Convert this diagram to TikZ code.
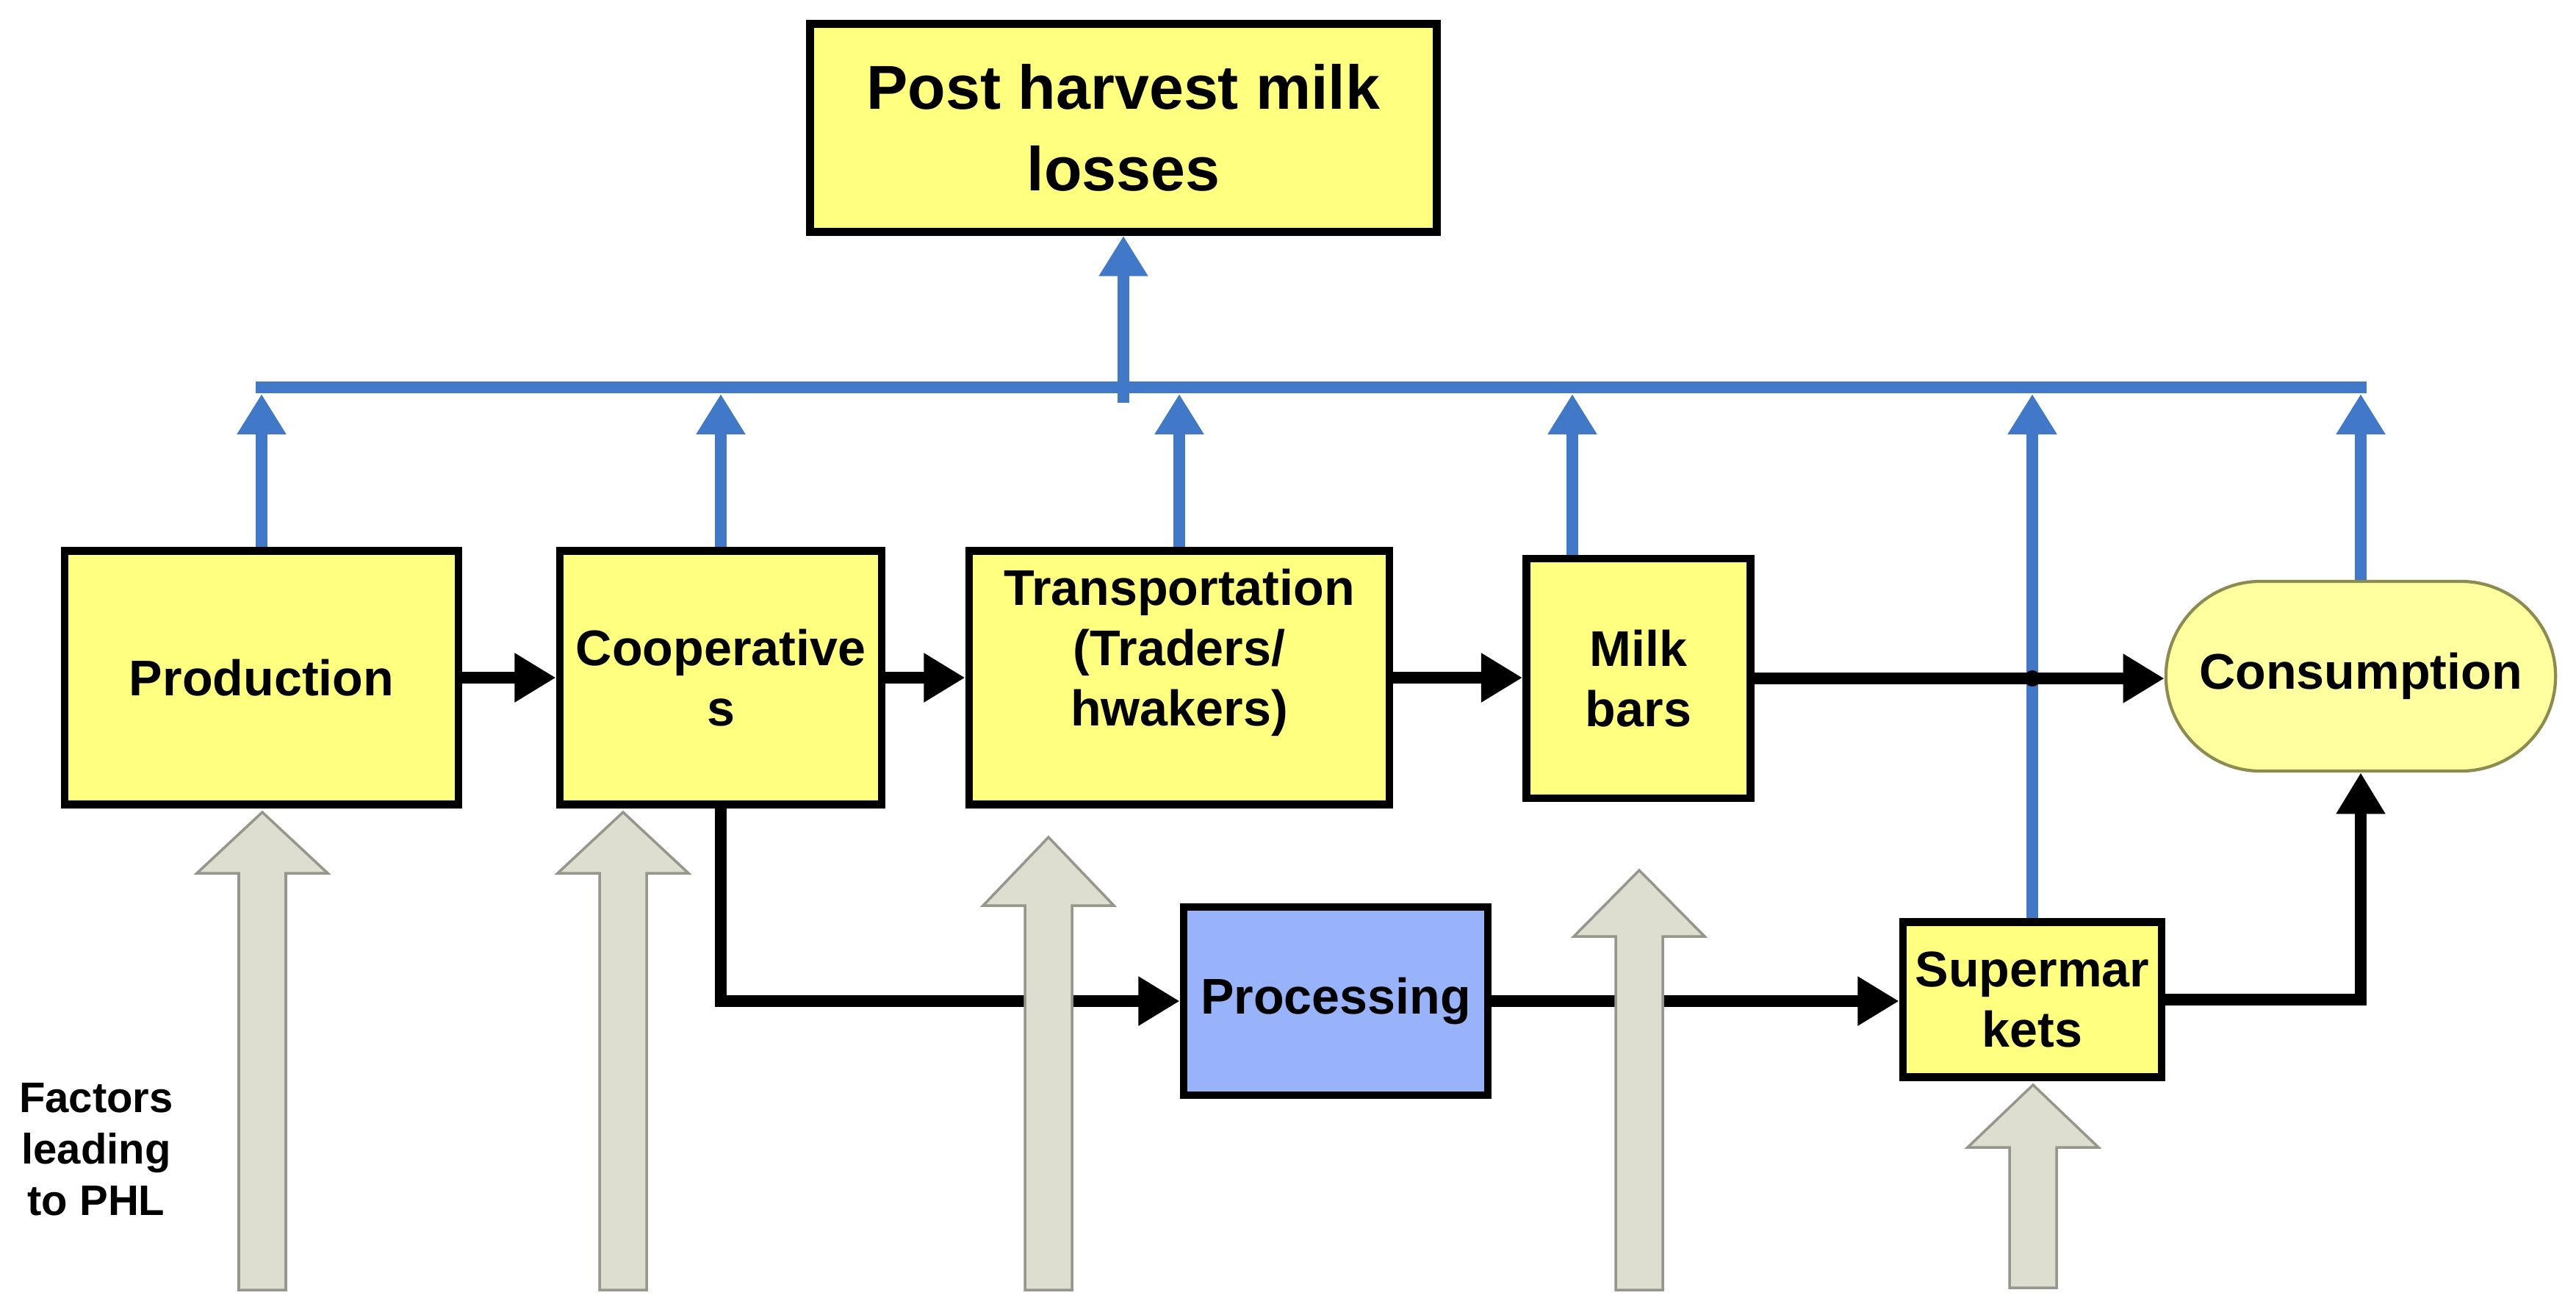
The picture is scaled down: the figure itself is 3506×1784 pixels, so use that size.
\documentclass[tikz,border=0pt]{standalone}
\usepackage{fontspec}
\setmainfont{Liberation Sans}
\usetikzlibrary{arrows.meta,shapes.misc}
\definecolor{boxyellow}{RGB}{255,255,128}
\definecolor{consyellow}{RGB}{255,255,160}
\definecolor{consline}{RGB}{140,140,80}
\definecolor{procblue}{RGB}{153,179,250}
\definecolor{lineblue}{RGB}{66,120,200}
\definecolor{gfill}{RGB}{221,222,208}
\definecolor{gline}{RGB}{150,150,140}
\newcommand{\grayarrow}[4]{%
  \draw[garrow] (#1-32,#4) -- (#1-32,#3) -- (#1-89,#3) -- (#1,#2) -- (#1+89,#3) -- (#1+32,#3) -- (#1+32,#4) -- cycle;}
\begin{document}
\begin{tikzpicture}[x=0.01cm,y=-0.01cm,
  box/.style={draw=black, line width=3pt, fill=boxyellow, align=center, inner sep=0pt,
    font=\bfseries\fontsize{19.4}{23.4}\selectfont},
  consbox/.style={rounded rectangle, draw=consline, line width=1.2pt, fill=consyellow, inner sep=0pt,
    font=\bfseries\fontsize{19.4}{23.4}\selectfont},
  blueline/.style={draw=lineblue, line width=4.5pt},
  bluearrow/.style={blueline, -{Triangle[length=15.6pt,width=18pt]}},
  blkarrow/.style={draw=black, line width=4.5pt, -{Triangle[length=16pt,width=18pt]}},
  garrow/.style={draw=gline, line width=1pt, fill=gfill, line join=miter},
  factors/.style={align=center, inner sep=0pt, font=\bfseries\fontsize{16.5}{19.9}\selectfont}
]
\fill[white] (0,0) rectangle (3506,1784);
\useasboundingbox (0,0) rectangle (3506,1784);

% nodes
\node[box, minimum width=8.52cm, minimum height=2.83cm, font=\bfseries\fontsize{24}{31.6}\selectfont]
  (top) at (1529,174) {Post harvest milk\\losses};
\node[box, minimum width=5.36cm, minimum height=3.45cm] (prod) at (356,922) {Production};
\node[box, minimum width=4.38cm, minimum height=3.45cm] (coop) at (981,922) {Cooperative\\s};
\node[box, minimum width=5.72cm, minimum height=3.45cm] (trans) at (1605,922) {Transportation\\(Traders/\\hwakers)\\\mbox{}};
\node[box, minimum width=3.05cm, minimum height=3.26cm] (milk) at (2230,923) {Milk\\bars};
\node[consbox, minimum width=5.3cm, minimum height=2.58cm] (cons) at (3213,920) {Consumption};
\node[box, fill=procblue, minimum width=4.14cm, minimum height=2.56cm] (proc) at (1818,1362) {Processing};
\node[box, minimum width=3.52cm, minimum height=2.11cm] (sup) at (2766,1360) {Supermar\\kets};
\node[factors] (fac) at (131,1564) {Factors\\leading\\to PHL};

\coordinate (bus) at (0,527);
\coordinate (busb) at (0,536);
\coordinate (busu) at (0,548);

% blue bus and arrows
\draw[blueline, line cap=rect] (prod.north |- bus) -- (cons.north |- bus);
\draw[bluearrow] (top.south |- busu) -- (top.south);
\draw[bluearrow] (prod.north) -- (prod.north |- busb);
\draw[bluearrow] (coop.north) -- (coop.north |- busb);
\draw[bluearrow] (trans.north) -- (trans.north |- busb);
\draw[bluearrow] ([xshift=-0.9cm]milk.north) -- ([xshift=-0.9cm]milk.north |- busb);
\draw[bluearrow] (sup.north) -- (sup.north |- busb);
\draw[bluearrow] (cons.north) -- (cons.north |- busb);

% black flow arrows
\draw[blkarrow] (prod.east) -- (coop.west);
\draw[blkarrow] (coop.east) -- (coop.east -| trans.west);
\draw[blkarrow] (trans.east) -- (trans.east -| milk.west);
\draw[blkarrow] (milk.east) -- (milk.east -| cons.west);
\fill[black] (sup.north |- milk.east) circle (11);
\draw[blkarrow] (coop.south) |- (proc.west);
\draw[blkarrow] (proc.east) -- (proc.east -| sup.west);
\draw[blkarrow] (sup.east) -| (cons.south);

% grey factor arrows
\grayarrow{357}{1105}{1188}{1755}
\grayarrow{848}{1105}{1188}{1755}
\grayarrow{1427}{1139}{1232}{1755}
\grayarrow{2231}{1184}{1274}{1755}
\grayarrow{2767}{1476}{1561}{1752}
\end{tikzpicture}
\end{document}
